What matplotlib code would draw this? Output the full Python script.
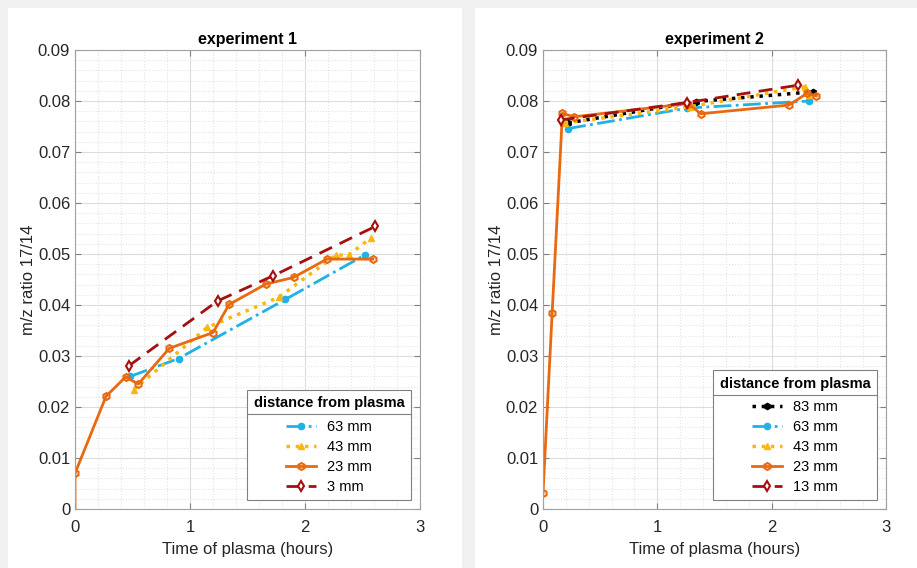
import matplotlib.pyplot as plt
from matplotlib.patches import Rectangle
from matplotlib.lines import Line2D
from matplotlib.ticker import MultipleLocator

plt.rcParams['font.family'] = ['Liberation Sans', 'DejaVu Sans']

# experiment 1 (time in hours, m/z ratio 17/14)
e1_t63 = [0.48, 0.90, 1.83, 2.52]
e1_v63 = [0.0260, 0.0295, 0.0411, 0.0498]
e1_t43 = [0.51, 1.15, 1.77, 2.27, 2.38, 2.57]
e1_v43 = [0.0234, 0.0356, 0.0415, 0.0498, 0.0498, 0.0531]
e1_t23 = [0.0, 0.0, 0.27, 0.44, 0.55, 0.82, 1.20, 1.34, 1.66, 1.90, 2.19, 2.59]
e1_v23 = [0.0, 0.0070, 0.0221, 0.0259, 0.0245, 0.0315, 0.0346, 0.0401, 0.0441, 0.0454, 0.0490, 0.0490]
e1_t3 = [0.47, 1.24, 1.72, 2.61]
e1_v3 = [0.0281, 0.0408, 0.0457, 0.0554]

# experiment 2
e2_t83 = [0.22, 1.34, 2.36]
e2_v83 = [0.0757, 0.0799, 0.0818]
e2_t63 = [0.22, 1.26, 2.33]
e2_v63 = [0.0746, 0.0786, 0.0800]
e2_t43 = [0.19, 1.29, 2.29, 2.33]
e2_v43 = [0.0757, 0.0789, 0.0828, 0.0812]
e2_t23 = [0.0, 0.08, 0.17, 0.27, 1.27, 1.38, 2.15, 2.31, 2.39]
e2_v23 = [0.0031, 0.0384, 0.0776, 0.0769, 0.0795, 0.0775, 0.0792, 0.0815, 0.0810]
e2_t13 = [0.155, 1.26, 2.23]
e2_v13 = [0.0763, 0.0797, 0.0831]

c_black = '#000000'
c_cyan = '#1fb2e6'
c_yellow = '#f9b70f'
c_orange = '#e8690f'
c_red = '#a50f0f'

fig = plt.figure(figsize=(9.17, 5.68), dpi=100)
fig.patch.set_facecolor('#f0f0f0')
# white panels behind each subplot
fig.patches.append(Rectangle((8 / 917, 0), 454 / 917, 560 / 568, transform=fig.transFigure,
                             facecolor='white', edgecolor='none', zorder=-1))
fig.patches.append(Rectangle((475 / 917, 0), 442 / 917, 560 / 568, transform=fig.transFigure,
                             facecolor='white', edgecolor='none', zorder=-1))

ax1 = fig.add_axes([75 / 917, 59 / 568, 345 / 917, 459 / 568])
ax2 = fig.add_axes([543 / 917, 59 / 568, 343 / 917, 459 / 568])

open_hex = dict(marker='h', ms=5, mfc='none', mew=1.5)
open_dia = dict(marker='d', ms=5, mfc='white', mew=1.5)

ax1.plot(e1_t63, e1_v63, '-.', color=c_cyan, lw=2, marker='o', ms=4.5, label='63 mm')
ax1.plot(e1_t43, e1_v43, ':', color=c_yellow, lw=2.5, marker='^', ms=5, label='43 mm')
ax1.plot(e1_t23, e1_v23, '-', color=c_orange, lw=2, markevery=list(range(1, len(e1_t23))),
         label='23 mm', **open_hex)
ax1.plot(e1_t3, e1_v3, '--', color=c_red, lw=2, dashes=(5, 3), label='3 mm', **open_dia)

ax2.plot(e2_t83, e2_v83, ':', color=c_black, lw=2.5, marker='h', ms=4.5, label='83 mm')
ax2.plot(e2_t63, e2_v63, '-.', color=c_cyan, lw=2, marker='o', ms=4.5, label='63 mm')
ax2.plot(e2_t43, e2_v43, ':', color=c_yellow, lw=2.5, marker='^', ms=5, label='43 mm')
ax2.plot(e2_t23, e2_v23, '-', color=c_orange, lw=2, label='23 mm', **open_hex)
ax2.plot(e2_t13, e2_v13, '--', color=c_red, lw=2, dashes=(5, 3), label='13 mm', **open_dia)

legs = []
for ax, title in [(ax1, 'experiment 1'), (ax2, 'experiment 2')]:
    ax.set_xlim(0, 3)
    ax.set_ylim(0, 0.09)
    ax.xaxis.set_major_locator(MultipleLocator(1))
    ax.xaxis.set_minor_locator(MultipleLocator(0.2))
    ax.yaxis.set_major_locator(MultipleLocator(0.01))
    ax.yaxis.set_minor_locator(MultipleLocator(0.002))
    ax.set_yticks(ax.get_yticks())
    ax.set_yticklabels(['0' if v == 0 else f'{v:.2f}' for v in ax.get_yticks()])
    ax.set_xticks([0, 1, 2, 3])
    ax.set_xticklabels(['0', '1', '2', '3'])
    ax.set_ylim(0, 0.09)
    ax.grid(True, which='major', color='#dcdcdc', lw=0.8)
    ax.grid(True, which='minor', color='#e4e4e4', lw=0.8, ls=':')
    ax.set_axisbelow(True)
    ax.tick_params(which='both', direction='in', colors='#262626', labelsize=12,
                   top=True, right=True)
    ax.tick_params(which='minor', length=0)
    ax.tick_params(which='major', length=4, color='#808080')
    ax.tick_params(axis='x', pad=8)
    for s in ax.spines.values():
        s.set_color('#a0a0a0')
        s.set_linewidth(0.8)
    ax.set_title(title, fontsize=11.5, fontweight='bold', pad=4)
    ax.set_xlabel('Time of plasma (hours)', fontsize=12, color='#262626', labelpad=5)
    ax.set_ylabel('m/z ratio 17/14', fontsize=12, color='#262626', labelpad=1)
    leg = ax.legend(loc='lower right', title='distance from plasma', fontsize=10.5,
                    title_fontproperties={'weight': 'bold', 'size': 10.5},
                    fancybox=False, edgecolor='#808080', framealpha=1,
                    borderaxespad=0.6, handlelength=2.0, labelspacing=0.4,
                    borderpad=0.45)
    leg.get_frame().set_linewidth(0.8)
    leg._legend_box.align = 'center'
    leg._legend_box.sep = 7
    legs.append(leg)

# separator line under the legend titles
fig.canvas.draw()
inv = fig.transFigure.inverted()
for leg in legs:
    fb = leg.get_frame().get_window_extent()
    tb = leg.get_title().get_window_extent()
    y = tb.y0 - 4
    (x0, yf), = inv.transform([(fb.x0, y)])
    (x1, _), = inv.transform([(fb.x1, y)])
    fig.lines.append(Line2D([x0, x1], [yf, yf], transform=fig.transFigure,
                            color='#808080', lw=0.8, zorder=10))

fig.savefig('out.png', dpi=100, facecolor=fig.get_facecolor())
